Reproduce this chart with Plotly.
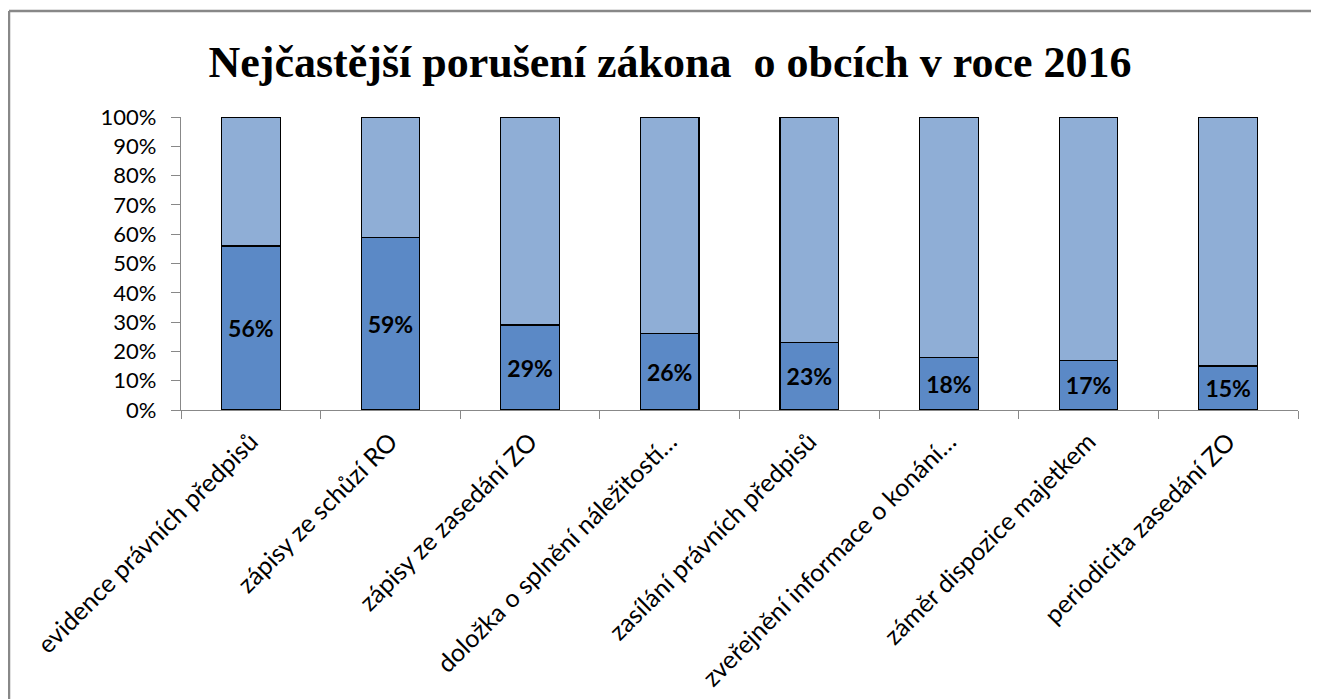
import plotly.graph_objects as go

categories = [
    "evidence právních předpisů",
    "zápisy ze schůzí RO",
    "zápisy ze zasedání ZO",
    "doložka o splnění náležitostí…",
    "zasílání právních předpisů",
    "zveřejnění informace o konání…",
    "záměr dispozice majetkem",
    "periodicita zasedání ZO",
]
violations = [0.56, 0.59, 0.29, 0.26, 0.23, 0.18, 0.17, 0.15]
remainder = [round(1 - v, 2) for v in violations]
title_text = "Nejčastější porušení zákona  o obcích v roce 2016"

# page body offset of 8px is taken into account
OFF = 8
W, H = 1319 - OFF, 699 - OFF
ml, mt = 181 - OFF, 117 - OFF
pw, ph = 1117, 293
mr = W - ml - pw
mb = H - mt - ph

def px_to_paper_x(px):
    return (px - OFF - ml) / pw

def px_to_paper_y(py):
    return (H - mb - (py - OFF)) / ph

fig = go.Figure()
fig.add_trace(go.Bar(
    x=categories, y=violations,
    marker=dict(color="#5B89C6", line=dict(color="black", width=1.2)),
    text=[f"{round(v*100)}%" for v in violations],
    textposition="inside", insidetextanchor="middle", textangle=0,
    constraintext="none",
    textfont=dict(family="Lato", size=23, color="black", weight="bold"),
    hoverinfo="skip",
))
fig.add_trace(go.Bar(
    x=categories, y=remainder,
    marker=dict(color="#8FAED6", line=dict(color="black", width=1.2)),
    hoverinfo="skip",
))

gray = "#888888"
fig.add_shape(type="line", xref="paper", yref="paper",
              x0=px_to_paper_x(9), x1=px_to_paper_x(1319),
              y0=px_to_paper_y(11), y1=px_to_paper_y(11),
              line=dict(color=gray, width=2.5))
fig.add_shape(type="line", xref="paper", yref="paper",
              x0=px_to_paper_x(9), x1=px_to_paper_x(9),
              y0=px_to_paper_y(11), y1=px_to_paper_y(699),
              line=dict(color=gray, width=2.5))

fig.update_layout(
    width=W, height=H,
    margin=dict(l=ml, r=mr, t=mt, b=mb, autoexpand=False),
    barmode="stack", bargap=0.58,
    showlegend=False,
    plot_bgcolor="white", paper_bgcolor="white",
    title=dict(text=f"<b>{title_text}</b>", x=(670 - OFF) / W, xanchor="center",
               y=1 - (62 - OFF) / H, yanchor="middle",
               font=dict(family="Liberation Serif", size=44, color="black")),
    xaxis=dict(type="category", tickson="boundaries", ticks="outside",
               ticklen=8, tickcolor=gray, showline=True, linecolor=gray,
               linewidth=1.3, tickangle=-45, showgrid=False, automargin=False,
               ticklabelstandoff=6,
               tickfont=dict(family="Lato", size=25, color="black")),
    yaxis=dict(range=[0, 1], dtick=0.1, tickformat=".0%", ticks="outside",
               ticklen=9, tickcolor=gray, showline=True, linecolor=gray,
               linewidth=1.3, showgrid=False, zeroline=False, automargin=False,
               ticklabelstandoff=10,
               tickfont=dict(family="Lato", size=22, color="black")),
)

fig.write_html("out.html")
